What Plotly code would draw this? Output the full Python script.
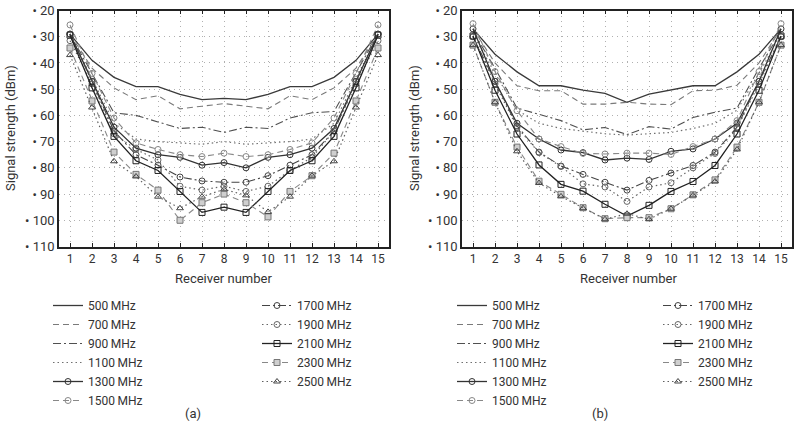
import plotly.graph_objects as go

# ---------------- data ----------------
receivers = list(range(1, 16))
freq_labels = ["500\u2009MHz", "700\u2009MHz", "900\u2009MHz", "1100\u2009MHz", "1300\u2009MHz",
               "1500\u2009MHz", "1700\u2009MHz", "1900\u2009MHz", "2100\u2009MHz", "2300\u2009MHz",
               "2500\u2009MHz"]
y_ticks = [20, 30, 40, 50, 60, 70, 80, 90, 100, 110]

# panel (a)
a_500 = [29, 39, 45.5, 49, 49, 52, 54, 53.5, 54, 52, 49, 49, 45.5, 39, 29]
a_700 = [29, 42, 49.5, 54, 52.5, 57.5, 56.5, 55.5, 56.5, 57.5, 52.5, 54, 49.5, 42, 29]
a_900 = [29, 44, 59, 60, 62.5, 65, 64.5, 66.5, 64.5, 65, 61, 59, 58.5, 44, 29]
a_1100 = [29, 46, 63, 69, 70, 70.5, 71, 70, 71, 70.5, 70, 69, 63, 46, 29]
a_1300 = [29, 47, 64.5, 72.5, 75, 76, 79, 78, 80, 76, 75, 72.5, 65, 47, 29]
a_1500 = [25.5, 44, 61, 70.5, 73, 75, 75.7, 74.4, 75.7, 75, 73, 70.5, 61, 44, 25.5]
a_1700 = [29, 47, 66, 75, 79, 83.5, 85, 85.5, 85.5, 83, 79, 75, 66, 47, 29]
a_1900 = [31.5, 48, 67, 73, 77, 87, 88.5, 87, 89, 87, 81, 76, 66, 48, 31.5]
a_2100 = [29.4, 49.5, 68, 77.3, 81, 89, 97, 95, 97, 89, 81, 77.3, 68, 49.5, 29.4]
a_2300 = [34.3, 54.5, 74, 82.5, 88.5, 100, 93.3, 90, 93.3, 98.7, 89, 83, 74.4, 54.5, 34.3]
a_2500 = [37, 57, 77.5, 83.3, 91, 95.4, 91, 88.2, 90.5, 96.8, 91, 83, 77.5, 57, 37]

# panel (b)
b_500 = [27, 36.7, 43.4, 48.7, 48.7, 50.4, 51.6, 55, 51.9, 50.4, 48.7, 48.7, 43.4, 36.7, 27]
b_700 = [27, 40, 48.7, 50.6, 50.6, 55.7, 55.7, 55, 55.7, 55.9, 50.6, 50.4, 48.5, 40, 27]
b_900 = [28, 42, 57.2, 59.5, 62, 65.5, 64.6, 67.3, 64.3, 65.2, 60.8, 58.8, 57.2, 42, 28]
b_1100 = [29, 44, 58, 63, 65, 66, 67, 67.5, 67, 66.5, 65, 63, 58, 44, 29]
b_1300 = [27, 47, 63, 69, 73.2, 74.2, 77, 76.3, 76.8, 73.7, 72.8, 69, 63, 47, 27]
b_1500 = [25, 43.3, 58.2, 69, 71.9, 74.5, 74.7, 74.4, 74.4, 74.9, 71.9, 69, 62, 43.3, 25]
b_1700 = [30, 47, 64, 74, 79.3, 82.5, 85.5, 88.5, 84.8, 82, 79.1, 74, 64.5, 47, 30]
b_1900 = [30, 48, 64.5, 74.2, 79.5, 86.1, 87.3, 92.8, 87.3, 85.7, 80, 74.5, 65, 48, 30]
b_2100 = [29.7, 50.4, 67.1, 78.9, 86.3, 88.9, 93.9, 98.4, 94.3, 89, 85.2, 79.1, 67.1, 50.4, 29.7]
b_2300 = [33.2, 55, 72.1, 85.1, 90.1, 95.2, 99.4, 99, 99, 95.6, 90.3, 84.6, 72.1, 55, 33.2]
b_2500 = [33.2, 55, 73.7, 85.8, 90.9, 95.4, 99.6, 97.5, 99.6, 95.6, 90.5, 85.2, 73, 55, 33.2]

panel_a = [a_500, a_700, a_900, a_1100, a_1300, a_1500, a_1700, a_1900, a_2100, a_2300, a_2500]
panel_b = [b_500, b_700, b_900, b_1100, b_1300, b_1500, b_1700, b_1900, b_2100, b_2300, b_2500]

# ---------------- styles ----------------
DASH = "6px,4px"
DOT = "1.5px,3px"
DASHDOT = "8px,3px,2px,3px"
styles = [
    dict(color="#3a3a3a", dash="solid", width=1.3, symbol=None),
    dict(color="#7a7a7a", dash=DASH, width=1.1, symbol=None),
    dict(color="#505050", dash=DASHDOT, width=1.1, symbol=None),
    dict(color="#707070", dash=DOT, width=1.2, symbol=None),
    dict(color="#333333", dash="solid", width=1.3, symbol="circle-open", mcolor="#333333"),
    dict(color="#888888", dash=DASH, width=1.1, symbol="circle-open", mcolor="#888888"),
    dict(color="#444444", dash=DASHDOT, width=1.1, symbol="circle-open", mcolor="#444444"),
    dict(color="#666666", dash=DOT, width=1.2, symbol="circle-open", mcolor="#666666"),
    dict(color="#222222", dash="solid", width=1.3, symbol="square-open", mcolor="#222222"),
    dict(color="#888888", dash=DASH, width=1.1, symbol="square", mcolor="#cfcfcf", mline="#777777"),
    dict(color="#606060", dash=DOT, width=1.2, symbol="triangle-up-open", mcolor="#444444"),
]

W, H = 800, 421
FONT = "Roboto"
TXT = "#333333"
GRID = "#b0b0b0"
GRID_DASH = "1px,4px"

fig = go.Figure()

def add_panel(values, xa, ya, leg1, leg2):
    for i, (lab, vals) in enumerate(zip(freq_labels, values)):
        st = styles[i]
        mode = "lines" if st["symbol"] is None else "lines+markers"
        marker = None
        if st["symbol"] is not None:
            marker = dict(symbol=st["symbol"], size=6, color=st["mcolor"],
                          line=dict(width=1, color=st.get("mline", st["mcolor"])))
        fig.add_trace(go.Scatter(
            x=receivers, y=vals, mode=mode, name=lab,
            line=dict(color=st["color"], dash=st["dash"], width=st["width"]),
            marker=marker, xaxis=xa, yaxis=ya,
            legend=leg1 if i < 6 else leg2,
        ))

add_panel(panel_a, "x", "y", "legend", "legend2")
add_panel(panel_b, "x2", "y2", "legend3", "legend4")

ytop = 1 - 10.5 / H
ybot = 1 - 246.5 / H

axis_common_x = dict(
    range=[0.5, 15.5], tickvals=receivers, ticktext=[str(r) for r in receivers],
    showgrid=True, gridcolor=GRID, griddash=GRID_DASH, gridwidth=1,
    showline=True, linecolor="#222222", linewidth=1.5, mirror="ticks",
    ticks="inside", ticklen=4, tickcolor="#222222",
    zeroline=False, automargin=False,
    tickfont=dict(family=FONT, size=12, color=TXT),
)
axis_common_y = dict(
    range=[110, 20], tickvals=y_ticks, ticktext=["\u2022 " + str(v) for v in y_ticks],
    showgrid=True, gridcolor=GRID, griddash=GRID_DASH, gridwidth=1,
    showline=True, linecolor="#222222", linewidth=1.5, mirror=True,
    ticks="", zeroline=False, automargin=False,
    tickfont=dict(family=FONT, size=13, color=TXT),
)

leg_common = dict(
    font=dict(family=FONT, size=12, color=TXT),
    bgcolor="rgba(0,0,0,0)", borderwidth=0, orientation="v",
    xanchor="left", yanchor="top", traceorder="normal",
    tracegroupgap=0, itemclick=False, itemdoubleclick=False,
)

LEG_TOP = 1 - 291 / H
fig.update_layout(
    width=W, height=H,
    margin=dict(l=0, r=0, t=0, b=0, autoexpand=False),
    paper_bgcolor="white", plot_bgcolor="white",
    showlegend=True,
    xaxis=dict(domain=[59 / W, 389 / W], anchor="y", **axis_common_x),
    yaxis=dict(domain=[ybot, ytop], anchor="x", **axis_common_y),
    xaxis2=dict(domain=[462 / W, 792 / W], anchor="y2", **axis_common_x),
    yaxis2=dict(domain=[ybot, ytop], anchor="x2", **axis_common_y),
    legend=dict(x=48 / W, y=LEG_TOP, **leg_common),
    legend2=dict(x=257 / W, y=LEG_TOP, **leg_common),
    legend3=dict(x=452 / W, y=LEG_TOP, **leg_common),
    legend4=dict(x=658 / W, y=LEG_TOP, **leg_common),
)

annots = [
    dict(text="Signal strength (dBm)", x=10 / W, y=1 - 128 / H, textangle=-90),
    dict(text="Receiver number", x=223 / W, y=1 - 278 / H),
    dict(text="Signal strength (dBm)", x=414 / W, y=1 - 128 / H, textangle=-90),
    dict(text="Receiver number", x=628 / W, y=1 - 278 / H),
    dict(text="(a)", x=193 / W, y=1 - 413 / H),
    dict(text="(b)", x=600 / W, y=1 - 413 / H),
]
for a in annots:
    fig.add_annotation(xref="paper", yref="paper", showarrow=False,
                       xanchor="center", yanchor="middle",
                       font=dict(family=FONT, size=13, color=TXT), **a)

fig.write_html("out.html",
               config={"displayModeBar": False},
               post_script="document.body.style.margin='0';document.body.style.overflow='hidden';")
